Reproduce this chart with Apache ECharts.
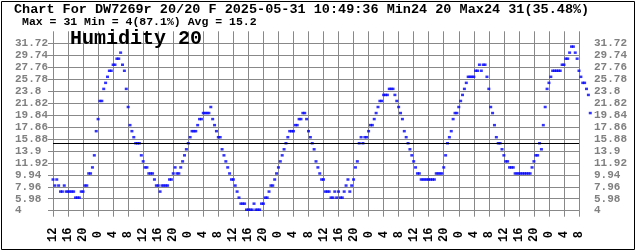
<!DOCTYPE html>
<html><head><meta charset="utf-8">
<script src="https://cdn.jsdelivr.net/npm/echarts@6/dist/echarts.min.js"></script>
<style>html,body{margin:0;padding:0;background:#fff}#c{width:636px;height:251px}</style>
</head><body><div id="c"></div>
<script>
const titleLine1 = "Chart For DW7269r 20/20 F 2025-05-31 10:49:36 Min24 20 Max24 31(35.48%)";
const titleLine2 = "Max = 31 Min = 4(87.1%) Avg = 15.2";
const chartLabel = "Humidity 20";

const startClockHour = 12;      // clock hour at the left edge
const sampleStepHours = 0.5;    // spacing of the readings below
const hourTickStep = 4;
const lastTickHour = 140;       // last labelled tick (08:00)

const yTickMin = 4;
const yTickStep = 1.98;
const yTickCount = 15;          // 14 labelled intervals + an unlabelled top band
const avgValue = 15.2;

// humidity readings every 30 min, starting 12:00
const humidity = [
  9,8,9,8,7,7,8,7,7,7,7,7,6,6,6,7,7,8,8,10,10,11,13,17,
  19,22,22,24,25,26,27,27,28,28,29,29,30,28,27,24,21,18,17,16,15,15,15,13,
  12,11,11,10,10,10,9,8,8,7,8,8,8,8,9,9,10,11,10,10,11,12,13,14,
  15,16,17,17,17,18,19,19,20,20,20,20,21,19,18,17,16,16,14,13,12,11,10,9,
  9,8,7,6,5,5,5,4,4,4,4,5,4,4,4,5,5,6,6,7,8,8,9,10,
  11,12,13,14,15,16,17,17,17,18,18,19,19,20,20,19,17,16,15,14,12,11,10,9,
  9,7,7,7,6,6,7,6,7,6,6,7,8,9,7,8,9,11,12,15,16,15,16,16,
  17,18,18,19,20,21,22,22,23,23,23,24,24,24,23,22,21,20,19,17,16,15,14,13,
  12,11,10,10,9,9,9,9,9,9,9,9,10,10,10,10,11,13,15,16,17,19,20,20,
  21,22,23,24,25,26,26,26,26,27,27,28,27,28,28,26,24,21,20,18,16,15,15,14,
  13,12,12,11,11,11,10,10,10,10,10,10,10,10,10,11,12,13,13,15,14,18,21,24,
  25,26,27,27,27,27,27,28,28,29,29,30,31,31,30,29,27,26,25,25,24,23,20
];

const points = humidity.map((v, i) => [i * sampleStepHours, v - yTickMin]);
const yMaxShifted = +(yTickStep * yTickCount).toFixed(2);
const gridGray = '#888888';
const mono = '"Liberation Mono", "DejaVu Sans Mono", monospace';

const yLabelFmt = v => String(+(v + yTickMin).toFixed(2));

const chart = echarts.init(document.getElementById('c'), null, {renderer: 'canvas'});
chart.setOption({
  animation: false,
  backgroundColor: '#ffffff',
  grid: {left: 53, right: 57, top: 31.3, bottom: 40.3, containLabel: false},
  xAxis: {
    type: 'value', min: 0, max: lastTickHour, interval: hourTickStep,
    axisLine: {show: true, lineStyle: {color: gridGray, width: 1}},
    axisTick: {show: true, length: 6, lineStyle: {color: gridGray}},
    splitLine: {show: true, lineStyle: {color: gridGray, width: 1}},
    axisLabel: {
      rotate: 90, margin: 24, align: 'center', verticalAlign: 'middle',
      color: '#000', fontFamily: mono, fontWeight: 'bold', fontSize: 12,
      formatter: v => String((startClockHour + v) % 24)
    }
  },
  yAxis: [{
    type: 'value', min: 0, max: yMaxShifted, interval: yTickStep, position: 'left',
    axisLine: {show: false},
    axisTick: {show: true, length: 5, lineStyle: {color: gridGray}},
    splitLine: {show: true, showMaxLine: false, lineStyle: {color: gridGray, width: 1}},
    axisLabel: {
      showMaxLabel: false, margin: 38, align: 'left', verticalAlign: 'middle',
      padding: [0, 0, 8, 0],
      color: '#808080', fontFamily: mono, fontWeight: 'bold', fontSize: 11,
      formatter: yLabelFmt
    }
  }, {
    type: 'value', min: 0, max: yMaxShifted, interval: yTickStep, position: 'right',
    axisLine: {show: false}, axisTick: {show: false}, splitLine: {show: false},
    axisLabel: {
      showMaxLabel: false, margin: 15, align: 'left', verticalAlign: 'middle',
      padding: [0, 0, 8, 0],
      color: '#808080', fontFamily: mono, fontWeight: 'bold', fontSize: 11,
      formatter: yLabelFmt
    }
  }],
  series: [{
    type: 'scatter', data: points, xAxisIndex: 0, yAxisIndex: 0,
    symbol: 'rect', symbolSize: [3, 2.5], symbolOffset: [0, -1],
    itemStyle: {color: '#0000ff'}, clip: false, silent: true,
    markLine: {
      silent: true, symbol: ['none', 'none'], label: {show: false},
      lineStyle: {color: '#000', width: 1, type: 'solid'},
      data: [{yAxis: avgValue - yTickMin}]
    }
  }],
  graphic: [
    {type: 'rect', shape: {x: 1.5, y: 1.5, width: 633, height: 248},
     style: {fill: 'none', stroke: '#000', lineWidth: 1}, silent: true},
    {type: 'text', x: 14, y: 9.5, silent: true,
     style: {text: titleLine1, fill: '#000', font: 'bold 13.5px ' + mono,
             textAlign: 'left', textVerticalAlign: 'middle', align: 'left', verticalAlign: 'middle'}},
    {type: 'text', x: 22, y: 22.5, silent: true,
     style: {text: titleLine2, fill: '#000', font: 'bold 11.5px ' + mono,
             textAlign: 'left', textVerticalAlign: 'middle', align: 'left', verticalAlign: 'middle'}},
    {type: 'text', x: 70, y: 38.5, silent: true, z: 100,
     style: {text: chartLabel, fill: '#000', font: 'bold 20px ' + mono,
             textAlign: 'left', textVerticalAlign: 'middle', align: 'left', verticalAlign: 'middle'}}
  ]
});
</script></body></html>
